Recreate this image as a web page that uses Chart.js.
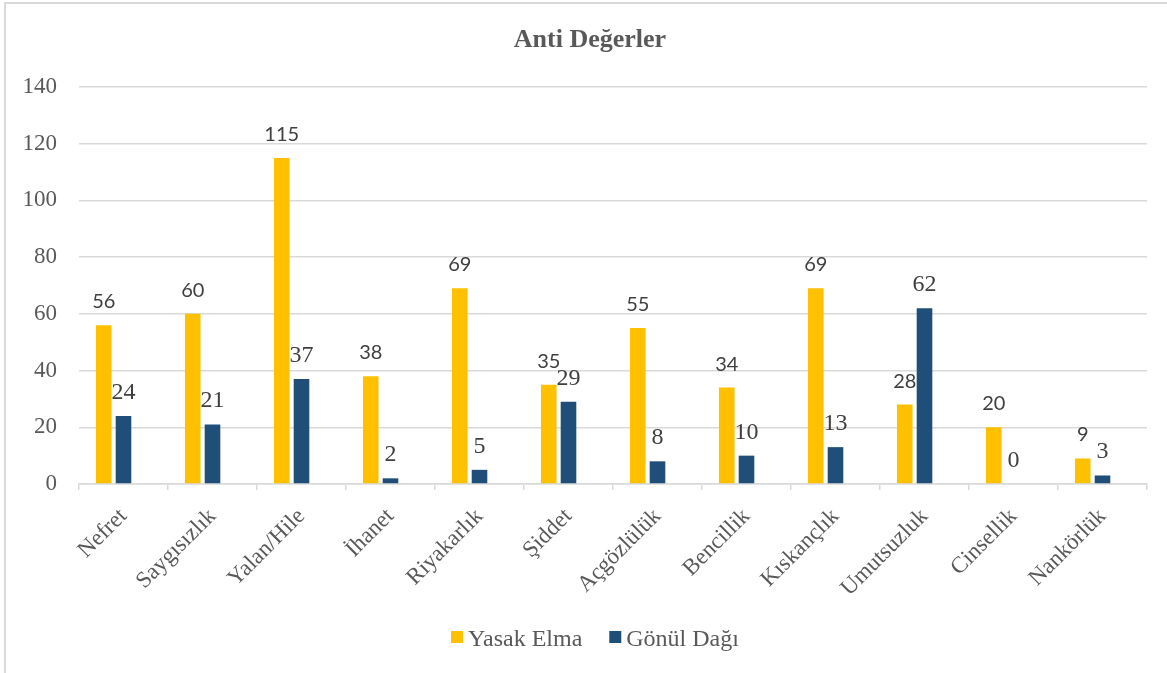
<!DOCTYPE html>
<html>
<head>
<meta charset="utf-8">
<title>Anti Değerler</title>
<script src="https://cdn.jsdelivr.net/npm/chart.js@4.4.1/dist/chart.umd.min.js"></script>
<style>
  html, body { margin: 0; padding: 0; background: #fff; overflow: hidden; }
  #frame {
    position: absolute; left: 4px; top: 2px; width: 2000px; height: 2000px;
    border-left: 2px solid #d9d9d9; border-top: 2px solid #d9d9d9;
  }
  #chart { position: absolute; left: 0; top: 0; }
</style>
</head>
<body>
<div id="frame"></div>
<canvas id="chart" width="1167" height="673"></canvas>
<script>
// ---------- 数据 ----------
const categories = ['Nefret', 'Saygısızlık', 'Yalan/Hile', 'İhanet', 'Riyakarlık', 'Şiddet',
                    'Açgözlülük', 'Bencillik', 'Kıskançlık', 'Umutsuzluk', 'Cinsellik', 'Nankörlük'];
const yasakElma = [56, 60, 115, 38, 69, 35, 55, 34, 69, 28, 20, 9];
const gonulDagi = [24, 21, 37, 2, 5, 29, 8, 10, 13, 62, 0, 3];
// Excel 原图里有第三个空系列，占位用
const bosSeri = [null, null, null, null, null, null, null, null, null, null, null, null];
const yTicks = [0, 20, 40, 60, 80, 100, 120, 140];
const chartTitle = 'Anti Değerler';

const GRAY = '#595959';
const SERIF = '"Liberation Serif", "Times New Roman", serif';
const SANS = 'Lato, "Open Sans", sans-serif';

// 标题（原图标题相对画布略偏右，自己画）
const topTitle = {
  id: 'topTitle',
  afterDraw(chart) {
    const ctx = chart.ctx;
    ctx.save();
    ctx.font = 'bold 26px ' + SERIF;
    ctx.fillStyle = GRAY;
    ctx.textAlign = 'center';
    ctx.textBaseline = 'middle';
    ctx.fillText(chartTitle, 590, 40);
    ctx.restore();
  }
};

// 柱顶数值标签（Yasak Elma 用无衬线，Gönül Dağı 用衬线，跟原图一致）
const valueLabels = {
  id: 'valueLabels',
  afterDatasetsDraw(chart) {
    const ctx = chart.ctx;
    ctx.save();
    ctx.textAlign = 'center';
    ctx.textBaseline = 'alphabetic';
    ctx.fillStyle = '#404040';
    [0, 1].forEach(function (di) {
      const meta = chart.getDatasetMeta(di);
      ctx.font = di === 0 ? '20px ' + SANS : '24px ' + SERIF;
      meta.data.forEach(function (bar, i) {
        const v = chart.data.datasets[di].data[i];
        ctx.fillText(String(v), bar.x, bar.y - 17);
      });
    });
    ctx.restore();
  }
};

// 底部图例（Excel 风格：小方块 + 文字，间距较紧）
const bottomLegend = {
  id: 'bottomLegend',
  afterDraw(chart) {
    const ctx = chart.ctx;
    const sets = chart.data.datasets.slice(0, 2);
    ctx.save();
    ctx.font = '24px ' + SERIF;
    ctx.textBaseline = 'alphabetic';
    ctx.textAlign = 'left';
    const widths = sets.map(function (d) { return ctx.measureText(d.label).width; });
    const total = widths.reduce(function (a, w) { return a + 12 + 5 + w; }, 0) + 27 * (sets.length - 1);
    let x = 595 - total / 2;
    sets.forEach(function (d, i) {
      ctx.fillStyle = d.backgroundColor;
      ctx.fillRect(x, 631, 12, 12);
      ctx.fillStyle = GRAY;
      ctx.fillText(d.label, x + 17, 646);
      x += 12 + 5 + widths[i] + 27;
    });
    ctx.restore();
  }
};

function drawChart() {
  new Chart(document.getElementById('chart'), {
    type: 'bar',
    data: {
      labels: categories,
      datasets: [
        { label: 'Yasak Elma', data: yasakElma, backgroundColor: '#ffc000', borderWidth: 0 },
        { label: 'Gönül Dağı', data: gonulDagi, backgroundColor: '#1f4e79', borderWidth: 0 },
        { label: '', data: bosSeri, backgroundColor: '#a5a5a5', borderWidth: 0 },
      ],
    },
    options: {
      responsive: false,
      animation: false,
      categoryPercentage: 0.666,
      barPercentage: 0.79,
      layout: { padding: { left: 0, right: 20, top: 87, bottom: 58 } },
      plugins: {
        title: { display: false },
        legend: { display: false },
        tooltip: { enabled: false },
      },
      scales: {
        x: {
          grid: { drawOnChartArea: false, offset: true, tickLength: 6, color: '#d9d9d9', lineWidth: 1.5 },
          border: { color: '#d9d9d9', width: 1.5 },
          ticks: {
            maxRotation: 45, minRotation: 45,
            color: GRAY,
            font: { family: SERIF, size: 23 },
            padding: 13,
          },
          afterFit: function (s) { s.height = 131; },
        },
        y: {
          min: 0, max: 140,
          afterBuildTicks: function (s) { s.ticks = yTicks.map(function (v) { return { value: v }; }); },
          grid: { color: '#d9d9d9', lineWidth: 1.5, drawTicks: false },
          border: { display: false },
          ticks: {
            color: GRAY,
            font: { family: SERIF, size: 23 },
            padding: 22,
          },
          afterFit: function (s) { s.width = 79; },
        },
      },
    },
    plugins: [valueLabels, topTitle, bottomLegend],
  });
}

// 先把字体加载好再画，避免画布用回退字体
Promise.all([
  document.fonts.load('23px "Liberation Serif"'),
  document.fonts.load('bold 26px "Liberation Serif"'),
  document.fonts.load('20px Lato'),
]).then(drawChart, drawChart);
</script>
</body>
</html>
